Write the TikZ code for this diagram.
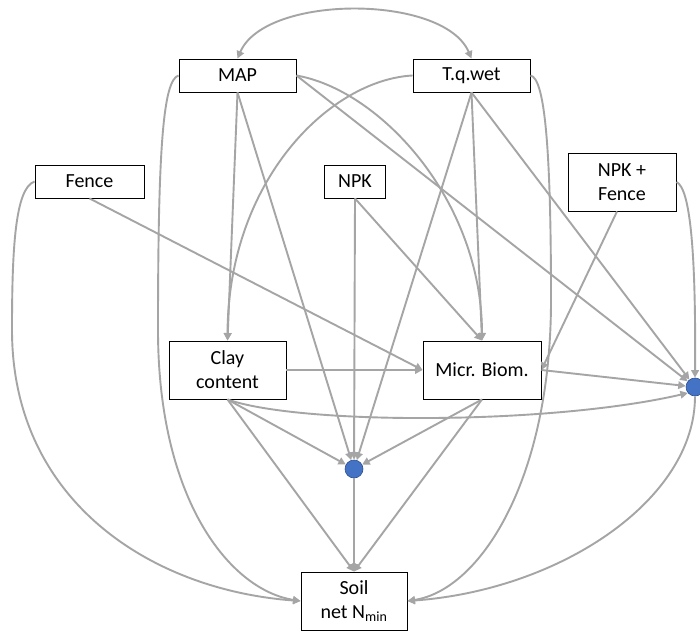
\documentclass[tikz,border=0pt]{standalone}
\usepackage{fontspec}
\setmainfont{Carlito}
\usetikzlibrary{arrows.meta}
\definecolor{edgegrey}{RGB}{165,165,165}
\definecolor{dotblue}{RGB}{68,114,196}
\definecolor{dotborder}{RGB}{47,82,143}
\begin{document}
\begin{tikzpicture}[x=1pt,y=-1pt,
  box/.style={draw=black, line width=0.9pt, fill=white, inner sep=0pt, align=center, font=\fontsize{20}{24}\selectfont},
  dotnode/.style={circle, fill=dotblue, draw=dotborder, line width=0.6pt, minimum size=18pt, inner sep=0pt},
  conn/.style={draw=edgegrey, line width=1.9pt, -{Triangle[length=7.5pt,width=7.5pt]}},
  biconn/.style={draw=edgegrey, line width=1.9pt, {Triangle[length=7.5pt,width=7.5pt]}-{Triangle[length=7.5pt,width=7.5pt]}},
]
\useasboundingbox (0,0) rectangle (700,631);
\fill[white] (0,0) rectangle (700,631);

\node[box, minimum width=117pt, minimum height=33pt] (map) at (237.5,75.5) {MAP};
\node[box, minimum width=117pt, minimum height=33pt] (tq) at (471.5,75.5) {T.q.wet};
\node[box, minimum width=109pt, minimum height=33pt] (fence) at (89.5,181.5) {Fence};
\node[box, minimum width=61pt, minimum height=33pt] (npk) at (355,181.5) {NPK};
\node[box, minimum width=108pt, minimum height=58pt] (npkf) at (622,182) {NPK +\\Fence};
\node[box, minimum width=117pt, minimum height=58pt] (clay) at (227.5,370) {Clay\\content};
\node[box, minimum width=118pt, minimum height=58pt] (micr) at (482,370) {Micr. Biom.};
\node[box, minimum width=106pt, minimum height=58pt] (soil) at (354,601) {Soil\\net N\textsubscript{min}};
\node[dotnode] (mid) at (354,469) {};
\node[dotnode] (rdot) at (695,387) {};

% MAP <-> T.q.wet
\draw[biconn] (map.north) .. controls (265,-6) and (444,-6) .. (tq.north);
% curves into Soil left
\draw[conn] (map.west) .. controls (163,80) and (158,150) .. (158,330) .. controls (158,500) and (230,590) .. (soil.west);
\draw[conn] (fence.west) .. controls (15,188) and (12,250) .. (12,330) .. controls (12,500) and (150,590) .. (soil.west);
% Fence -> Micr
\draw[conn] (fence.south) -- (micr.west);
% MAP edges
\draw[conn] (map.south) -- (clay.north);
\draw[conn] (map.south) -- (mid);
\draw[conn] (map.east) .. controls (380,90) and (482,200) .. (micr.north);
\draw[conn] (map.east) -- (rdot);
% T.q.wet edges
\draw[conn] (tq.west) .. controls (330,80) and (228,180) .. (clay.north);
\draw[conn] (tq.south) -- (mid);
\draw[conn] (tq.south) -- (micr.north);
\draw[conn] (tq.south) -- (rdot);
\draw[conn] (tq.east) .. controls (545,78) and (551,150) .. (551,300) .. controls (551,480) and (480,590) .. (soil.east);
% NPK edges
\draw[conn] (npk.south) -- (mid);
\draw[conn] (npk.south) -- (micr.north);
% NPK + Fence edges
\draw[conn] ([xshift=-5pt]npkf.south) -- (micr.east);
\draw[conn] (npkf.east) .. controls (690,188) and (696,250) .. (rdot.north);
% Clay edges
\draw[conn] (clay.east) -- (micr.west);
\draw[conn] (clay.south) -- (mid);
\draw[conn] (clay.south) -- (soil.north);
\draw[conn] (clay.south) .. controls (300,425) and (550,425) .. (rdot.220);
% Micr edges
\draw[conn] (micr.east) -- (rdot);
\draw[conn] (micr.south) -- (mid);
\draw[conn] (micr.south) -- (soil.north);
% dots
\draw[conn] (mid) -- (soil.north);
\draw[conn] (rdot.south) .. controls (695,500) and (560,590) .. (soil.east);
\end{tikzpicture}
\end{document}
